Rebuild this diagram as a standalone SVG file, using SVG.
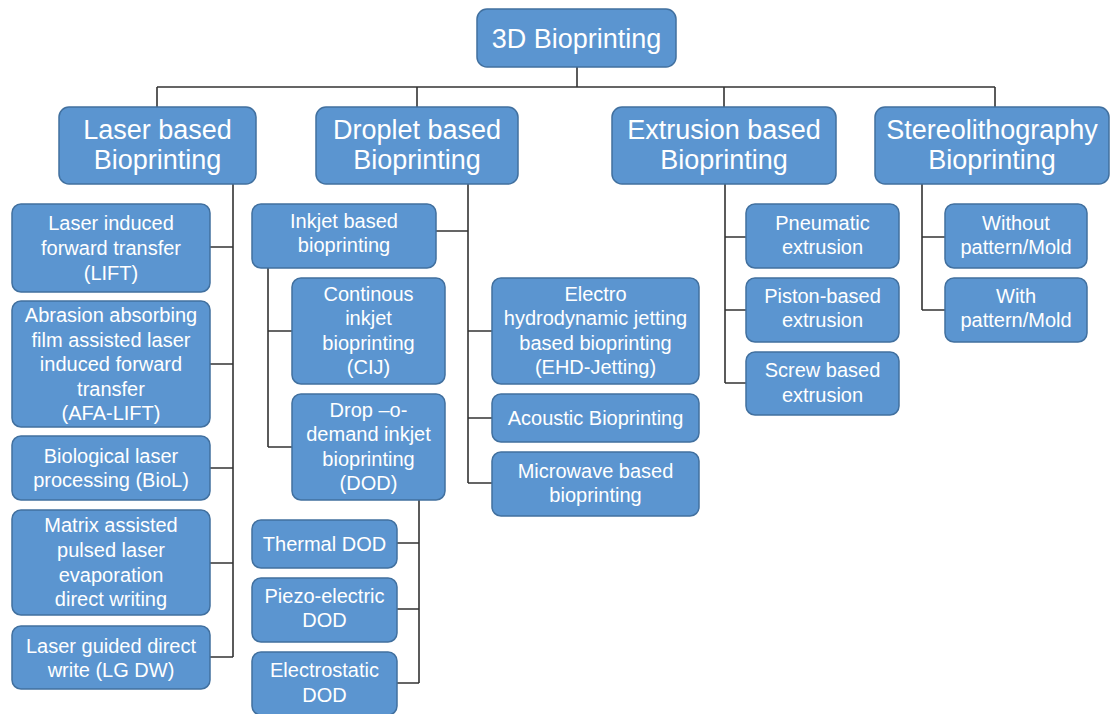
<svg xmlns="http://www.w3.org/2000/svg" width="1112" height="714" viewBox="0 0 1112 714">
<style>
.box{fill:#5b95d0;stroke:#41709f;stroke-width:1.5}
text{font-family:"Liberation Sans",Arial,Helvetica,sans-serif;fill:#ffffff;text-anchor:middle}
.t0{font-size:27px}
.t1{font-size:27px}
.t2{font-size:20px}
.conn{fill:none;stroke:#333333;stroke-width:1.6}
</style>
<rect width="1112" height="714" fill="#ffffff"/>
<g id="connectors" class="conn">
<path d="M577 67V87M157 87H995M157 87V107M417 87V107M724 87V107M995 87V107"/>
<path d="M233 184V657M210 247H233M210 364H233M210 468H233M210 563H233M210 657H233"/>
<path d="M468 184V483M436 231H468M468 331H492M468 418H492M468 483H492"/>
<path d="M268 268V447M268 331H292M268 447H292"/>
<path d="M419 500V683M397 543H419M397 609H419M397 683H419"/>
<path d="M725 184V383M725 237H746M725 310H746M725 383H746"/>
<path d="M922 184V310M922 237H945M922 310H945"/>
</g>
<g id="root"><rect class="box" x="477" y="9" width="199" height="58" rx="10"/><text class="t0" x="576.5" y="48">3D Bioprinting</text></g>
<g id="laser"><rect class="box" x="59" y="107" width="197" height="77" rx="10"/><text class="t1" x="157.5" y="139">Laser based</text><text class="t1" x="157.5" y="169">Bioprinting</text></g>
<g id="droplet"><rect class="box" x="316" y="107" width="202" height="77" rx="10"/><text class="t1" x="417" y="139">Droplet based</text><text class="t1" x="417" y="169">Bioprinting</text></g>
<g id="extrusion"><rect class="box" x="612" y="107" width="224" height="77" rx="10"/><text class="t1" x="724" y="139">Extrusion based</text><text class="t1" x="724" y="169">Bioprinting</text></g>
<g id="stereo"><rect class="box" x="875" y="107" width="234" height="77" rx="10"/><text class="t1" x="992" y="139">Stereolithography</text><text class="t1" x="992" y="169">Bioprinting</text></g>

<g id="lift"><rect class="box" x="12" y="204" width="198" height="88" rx="9"/><text class="t2" x="111" y="230">Laser induced</text><text class="t2" x="111" y="255">forward transfer</text><text class="t2" x="111" y="280">(LIFT)</text></g>
<g id="afalift"><rect class="box" x="12" y="301" width="198" height="126" rx="9"/><text class="t2" x="111" y="322">Abrasion absorbing</text><text class="t2" x="111" y="346.5">film assisted laser</text><text class="t2" x="111" y="371">induced forward</text><text class="t2" x="111" y="395.5">transfer</text><text class="t2" x="111" y="420">(AFA-LIFT)</text></g>
<g id="biol"><rect class="box" x="12" y="436" width="198" height="64" rx="9"/><text class="t2" x="111" y="463">Biological laser</text><text class="t2" x="111" y="487">processing (BioL)</text></g>
<g id="matrix"><rect class="box" x="12" y="510" width="198" height="105" rx="9"/><text class="t2" x="111" y="532">Matrix assisted</text><text class="t2" x="111" y="557">pulsed laser</text><text class="t2" x="111" y="582">evaporation</text><text class="t2" x="111" y="606">direct writing</text></g>
<g id="lgdw"><rect class="box" x="12" y="626" width="198" height="63" rx="9"/><text class="t2" x="111" y="653">Laser guided direct</text><text class="t2" x="111" y="677">write (LG DW)</text></g>

<g id="inkjet"><rect class="box" x="252" y="204" width="184" height="64" rx="9"/><text class="t2" x="344" y="228">Inkjet based</text><text class="t2" x="344" y="252">bioprinting</text></g>
<g id="cij"><rect class="box" x="292" y="278" width="153" height="106" rx="9"/><text class="t2" x="368.5" y="301">Continous</text><text class="t2" x="368.5" y="325">inkjet</text><text class="t2" x="368.5" y="349.5">bioprinting</text><text class="t2" x="368.5" y="374">(CIJ)</text></g>
<g id="dod"><rect class="box" x="292" y="394" width="153" height="106" rx="9"/><text class="t2" x="368.5" y="417">Drop –o-</text><text class="t2" x="368.5" y="441">demand inkjet</text><text class="t2" x="368.5" y="465.5">bioprinting</text><text class="t2" x="368.5" y="490">(DOD)</text></g>
<g id="thermal"><rect class="box" x="252" y="520" width="145" height="48" rx="9"/><text class="t2" x="324.5" y="551">Thermal DOD</text></g>
<g id="piezo"><rect class="box" x="252" y="578" width="145" height="64" rx="9"/><text class="t2" x="324.5" y="603">Piezo-electric</text><text class="t2" x="324.5" y="627">DOD</text></g>
<g id="electrostatic"><rect class="box" x="252" y="652" width="145" height="63" rx="9"/><text class="t2" x="324.5" y="677">Electrostatic</text><text class="t2" x="324.5" y="702">DOD</text></g>
<g id="ehd"><rect class="box" x="492" y="278" width="207" height="106" rx="9"/><text class="t2" x="595.5" y="301">Electro</text><text class="t2" x="595.5" y="325">hydrodynamic jetting</text><text class="t2" x="595.5" y="349.5">based bioprinting</text><text class="t2" x="595.5" y="374">(EHD-Jetting)</text></g>
<g id="acoustic"><rect class="box" x="492" y="394" width="207" height="48" rx="9"/><text class="t2" x="595.5" y="425">Acoustic Bioprinting</text></g>
<g id="microwave"><rect class="box" x="492" y="452" width="207" height="64" rx="9"/><text class="t2" x="595.5" y="478">Microwave based</text><text class="t2" x="595.5" y="502">bioprinting</text></g>

<g id="pneumatic"><rect class="box" x="746" y="204" width="153" height="64" rx="9"/><text class="t2" x="822.5" y="230">Pneumatic</text><text class="t2" x="822.5" y="254">extrusion</text></g>
<g id="piston"><rect class="box" x="746" y="278" width="153" height="64" rx="9"/><text class="t2" x="822.5" y="303">Piston-based</text><text class="t2" x="822.5" y="327">extrusion</text></g>
<g id="screw"><rect class="box" x="746" y="352" width="153" height="63" rx="9"/><text class="t2" x="822.5" y="377">Screw based</text><text class="t2" x="822.5" y="402">extrusion</text></g>
<g id="without"><rect class="box" x="945" y="204" width="142" height="64" rx="9"/><text class="t2" x="1016" y="230">Without</text><text class="t2" x="1016" y="254">pattern/Mold</text></g>
<g id="with"><rect class="box" x="945" y="278" width="142" height="64" rx="9"/><text class="t2" x="1016" y="303">With</text><text class="t2" x="1016" y="327">pattern/Mold</text></g>
</svg>
